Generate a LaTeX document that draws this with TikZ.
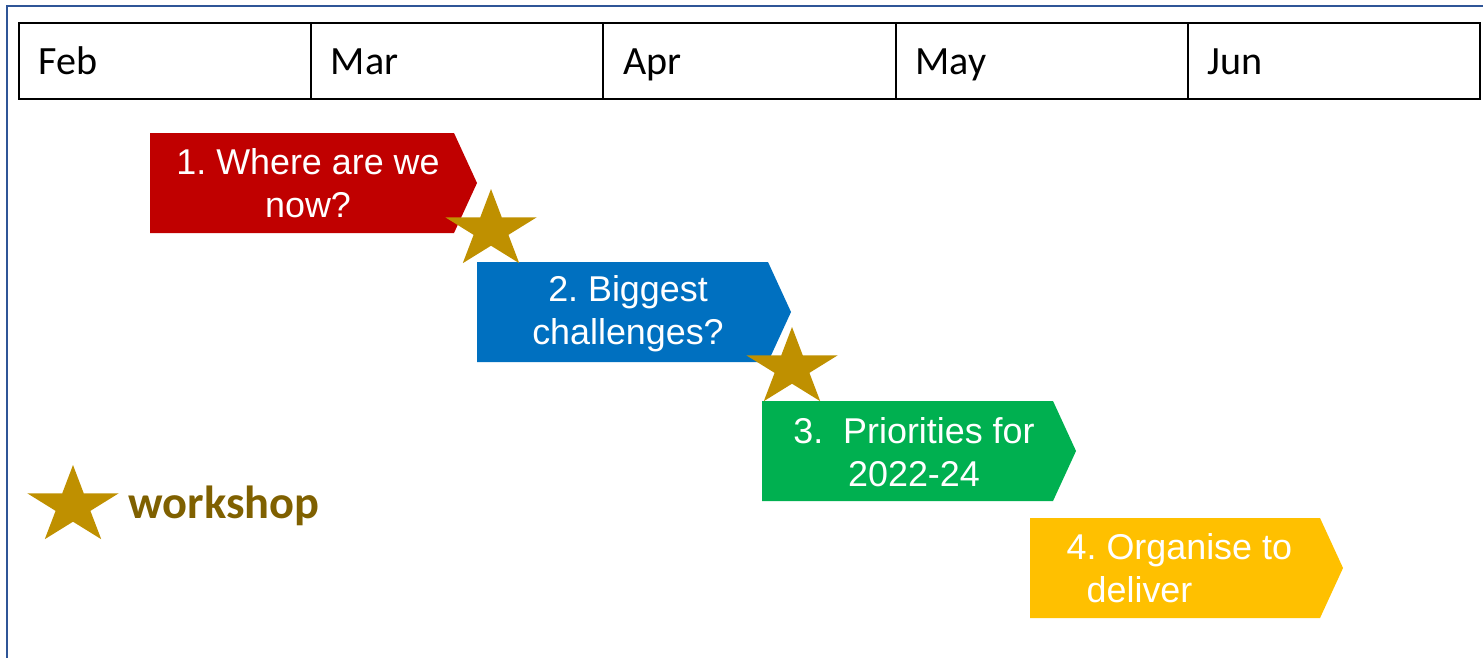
\documentclass[tikz,border=0pt]{standalone}
\usepackage{fontspec}
\setmainfont{Liberation Sans}
\newfontfamily\calibri{Carlito}
\usetikzlibrary{calc}
\usepackage{xcolor}
\definecolor{frameblue}{RGB}{47,85,151}
\definecolor{stepred}{RGB}{192,0,0}
\definecolor{stepblue}{RGB}{0,112,192}
\definecolor{stepgreen}{RGB}{0,176,80}
\definecolor{stepyellow}{RGB}{255,192,0}
\definecolor{stargold}{RGB}{191,144,0}
\definecolor{textgold}{RGB}{127,96,0}
\frenchspacing

\begin{document}
\begin{tikzpicture}[x=0.01cm,y=-0.01cm,
  month/.style={anchor=base west,inner sep=0pt,font=\calibri\fontsize{11.4}{13.7}\selectfont},
  steptext/.style={text=white,inner sep=0pt,align=center,font=\fontsize{10.2}{12.2}\selectfont}]
\useasboundingbox (0,0) rectangle (1483,657);
% column width & table edges
\newcommand{\colwd}{292.2}
\newcommand{\tbl}{19}
\newcommand{\tbt}{23}
\newcommand{\tbb}{99}
% bar height & tip depth
\newcommand{\barht}{100}
\newcommand{\tip}{23}
% phase bar: left, top, tip, colour
\newcommand{\phasebar}[4]{\fill[#4] (#1,#2)--(#3-\tip,#2)--(#3,#2+\barht/2)--(#3-\tip,#2+\barht)--(#1,#2+\barht)--cycle;}
% star: centre x, centre y
\newcommand{\workstar}[2]{\fill[stargold] (#1,#2) +(-90:48 and 41)
  \foreach \a in {-54,18,90,162,234} {--+(\a:18.3 and 15.7)--+(\a+36:48 and 41)}--cycle;}

% Frame
\draw[frameblue,line width=0.6pt] (7,700)--(7,6)--(1500,6);

% Months
\draw[line width=0.6pt] (\tbl,\tbt) rectangle (1480,\tbb);
\foreach \i in {1,...,4}
  \draw[line width=0.6pt] (\tbl+\i*\colwd,\tbt)--(\tbl+\i*\colwd,\tbb);
\foreach \m [count=\i from 0] in {Feb,Mar,Apr,May,Jun}
  \node[month] (\m) at (\tbl+19+\i*\colwd,74) {\m};

% Phases
\phasebar{150}{133}{477}{stepred}
\node[steptext] (now) at (308,183) {1. Where are we\\now?};
\phasebar{477}{262}{791}{stepblue}
\node[steptext] (challenges) at (628,314) {2. Biggest\\challenges?};
\phasebar{762}{401}{1076}{stepgreen}
\node[steptext] (priorities) at (914,452) {3.\ \ Priorities for\\2022-24};
\phasebar{1030}{518}{1343}{stepyellow}
\node[steptext,anchor=west,align=left] (deliver) at (1066,568) {4. Organise to\\\hspace*{0.2cm}deliver};

% Workshops
\workstar{491}{230}
\workstar{792}{368}

% Legend
\workstar{73}{506}
\node[anchor=west,inner sep=0pt,text=textgold,font=\calibri\bfseries\fontsize{13.2}{15.8}\selectfont] (workshop) at (128,506) {workshop};
\end{tikzpicture}
\end{document}
